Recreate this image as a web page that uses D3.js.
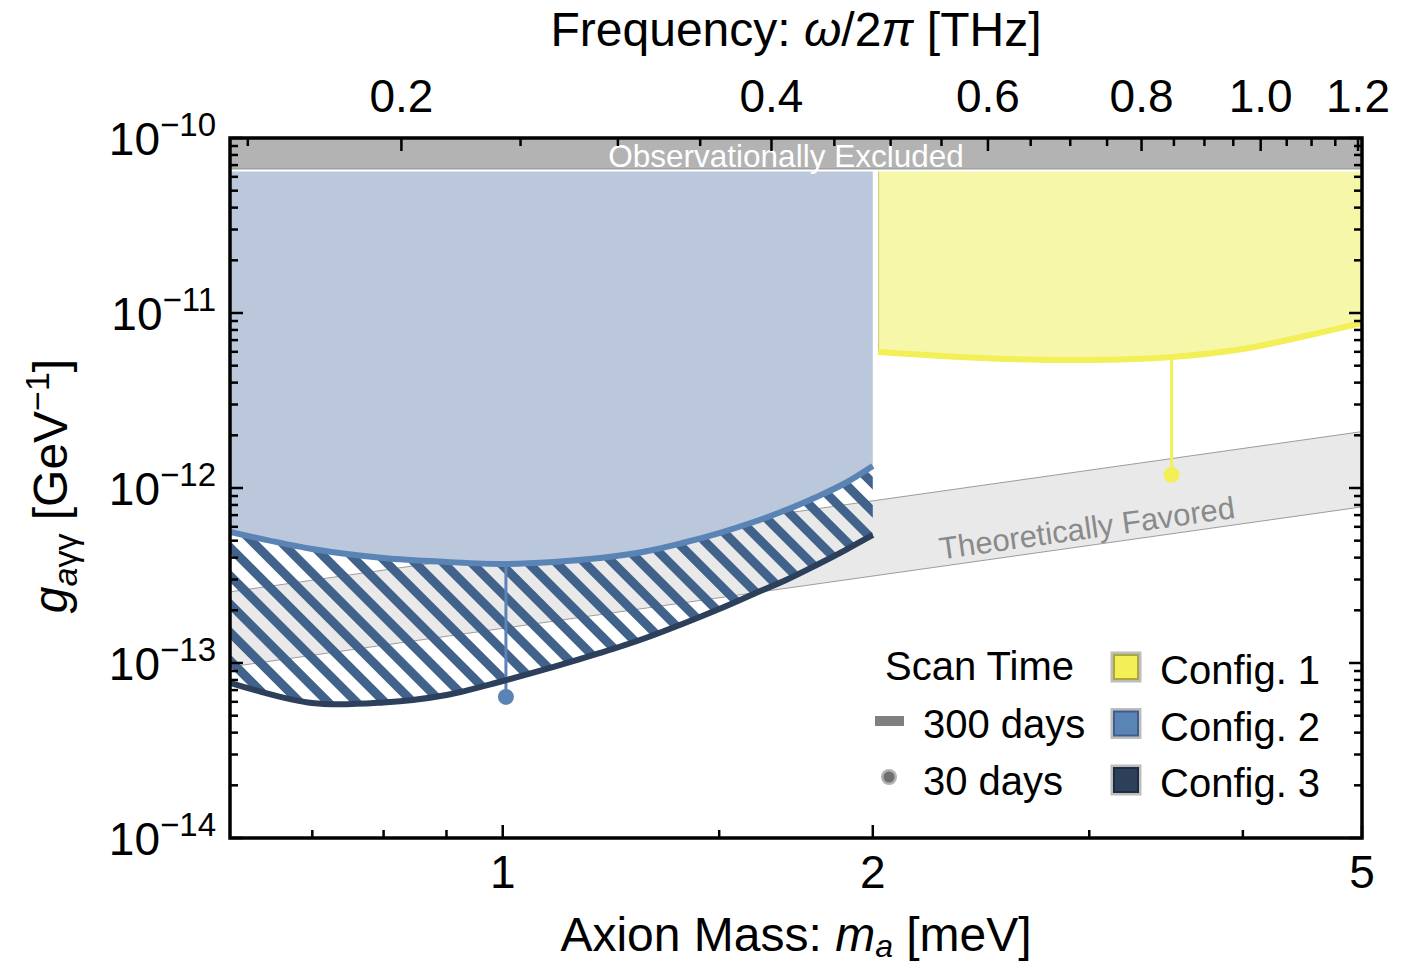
<!DOCTYPE html>
<html>
<head>
<meta charset="utf-8">
<script src="https://cdn.jsdelivr.net/npm/d3@7"></script>
<style>
  html, body { margin: 0; padding: 0; background: #fff; }
  svg { display: block; font-family: "Liberation Sans", Arial, Helvetica, sans-serif; }
</style>
</head>
<body>
<svg id="chart" width="1402" height="965"></svg>
<script>
// ---- Data -------------------------------------------------------------
// Axion mass grid (meV) for configurations 2 and 3
const lowMass = [0.6, 0.7, 0.8, 0.9, 1.0, 1.1, 1.2, 1.3, 1.4, 1.5, 1.6, 1.7, 1.8, 1.9, 2.0];
// 300-day sensitivity, g_{a gamma gamma} in GeV^-1
const config2G = [5.61e-13, 4.48e-13, 3.98e-13, 3.78e-13, 3.68e-13, 3.78e-13, 3.98e-13,
                  4.31e-13, 4.85e-13, 5.53e-13, 6.39e-13, 7.48e-13, 8.88e-13, 1.068e-12, 1.335e-12];
const config3G = [7.69e-14, 5.9e-14, 5.95e-14, 6.57e-14, 7.89e-14, 9.49e-14, 1.141e-13,
                  1.371e-13, 1.671e-13, 2.035e-13, 2.479e-13, 2.98e-13, 3.63e-13, 4.42e-13, 5.39e-13];
// Configuration 1 covers the higher-mass range
const highMass = [2.02, 2.5, 3.0, 3.5, 4.0, 4.5, 5.0];
const config1G = [5.99e-12, 5.5e-12, 5.39e-12, 5.61e-12, 6.23e-12, 7.39e-12, 8.77e-12];

// 30-day single-point reach
const shortScanConfig = ["Config. 1", "Config. 2"];
const shortScanMass = [3.5, 1.006];
const shortScanG = [1.19e-12, 6.4e-14];

// Observational bound and theory band (QCD axion lines)
const excludedG = 6.6e-11;
const bandMass = [0.6, 5];
const bandUpperG = [2.55e-13, 2.1e-12];
const bandLowerG = [9.5e-14, 7.8e-13];

// Axis ticks
const massMajorTicks = [1, 2, 5];
const massMinorTicks = [0.7, 0.8, 0.9, 1.5, 3, 4];
const freqMajorTicks = [0.2, 0.4, 0.6, 0.8, 1.0, 1.2];
const freqMajorLabels = ["0.2", "0.4", "0.6", "0.8", "1.0", "1.2"];
const freqMinorTicks = [0.15, 0.25, 0.3, 0.35, 0.45, 0.5, 0.55, 0.65, 0.7, 0.75,
                        0.85, 0.9, 0.95, 1.05, 1.1, 1.15];
const gDecades = [-14, -13, -12, -11, -10];

const legendConfigs = ["Config. 1", "Config. 2", "Config. 3"];
const legendScans = ["300 days", "30 days"];

// meV -> THz conversion (E = h f)
const MEV_TO_THZ = 0.241799;

// ---- Style ------------------------------------------------------------
const colors = {
  c1Fill: "#f7f7aa", c1Line: "#f2ef57", c1Edge: "#c9c77c",
  c2Fill: "#bbc8dc", c2Line: "#5b84b6",
  c3Line: "#2c405b", hatch: "#41628b",
  band: "#e9e9e9", bandEdge: "#9c9c9c",
  excluded: "#b3b3b3"
};

const L = 230, R = 1362, T = 138, B = 838;
const svg = d3.select("#chart");
const x = d3.scaleLog().domain([0.6, 5]).range([L, R]);
const y = d3.scaleLog().domain([1e-14, 1e-10]).range([B, T]);

const defs = svg.append("defs");
defs.append("clipPath").attr("id", "plotClip")
  .append("rect").attr("x", L).attr("y", T).attr("width", R - L).attr("height", B - T);

const hatchPeriod = 20;
const hatch = defs.append("pattern")
  .attr("id", "hatch").attr("patternUnits", "userSpaceOnUse")
  .attr("width", hatchPeriod).attr("height", hatchPeriod)
  .attr("patternTransform", "rotate(45)");
hatch.append("rect").attr("x", 0).attr("y", 0).attr("width", hatchPeriod).attr("height", 9)
  .attr("fill", colors.hatch);

const plot = svg.append("g").attr("clip-path", "url(#plotClip)");

const zip = (ms, gs) => ms.map((m, i) => ({ m, g: gs[i] }));
const lowPts2 = zip(lowMass, config2G);
const lowPts3 = zip(lowMass, config3G);
const highPts1 = zip(highMass, config1G);

// ---- Theory band -------------------------------------------------------
const bandPts = bandMass.map((m, i) => ({ m, up: bandUpperG[i], lo: bandLowerG[i] }));
plot.append("path").datum(bandPts)
  .attr("d", d3.area().x(d => x(d.m)).y0(d => y(d.lo)).y1(d => y(d.up)))
  .attr("fill", colors.band);
["up", "lo"].forEach(k => {
  plot.append("path").datum(bandPts)
    .attr("d", d3.line().x(d => x(d.m)).y(d => y(d[k])))
    .attr("fill", "none").attr("stroke", colors.bandEdge).attr("stroke-width", 1);
});

// ---- Excluded regions for each configuration ----------------------------
const curve = d3.curveCatmullRom.alpha(0.5);
plot.append("path").datum(lowPts2)
  .attr("d", d3.area().curve(curve).x(d => x(d.m)).y0(y(excludedG)).y1(d => y(d.g)))
  .attr("fill", colors.c2Fill);

plot.append("path").datum(highPts1)
  .attr("d", d3.area().curve(curve).x(d => x(d.m)).y0(y(excludedG)).y1(d => y(d.g)))
  .attr("fill", colors.c1Fill);
plot.append("line")
  .attr("x1", x(highMass[0]) + 0.5).attr("x2", x(highMass[0]) + 0.5)
  .attr("y1", y(excludedG)).attr("y2", y(config1G[0]))
  .attr("stroke", colors.c1Edge).attr("stroke-width", 1);

// Hatched band between configuration 2 and configuration 3 reach
const hatchPts = lowMass.map((m, i) => ({ m, top: config2G[i], bot: config3G[i] }));
plot.append("path").datum(hatchPts)
  .attr("d", d3.area().curve(curve).x(d => x(d.m)).y0(d => y(d.bot)).y1(d => y(d.top)))
  .attr("fill", "url(#hatch)");

// Band label, resting on the lower edge of the band
{
  const m0 = 3.0;
  const gLow = bandLowerG[0] * (m0 / bandMass[0]);
  const ang = Math.atan2(y(bandLowerG[1]) - y(bandLowerG[0]), x(bandMass[1]) - x(bandMass[0])) * 180 / Math.PI;
  plot.append("text")
    .attr("transform", `translate(${x(m0)},${y(gLow)}) rotate(${ang}) translate(0,-6)`)
    .attr("text-anchor", "middle").attr("font-size", 31).attr("fill", "#8a8a8a")
    .text("Theoretically Favored");
}

// ---- 30-day points ---------------------------------------------------------
function curveValue(ms, gs, m) {
  const lm = ms.map(Math.log10), lg = gs.map(Math.log10);
  const t = Math.log10(m);
  for (let i = 0; i < lm.length - 1; i++) {
    if (t >= lm[i] && t <= lm[i + 1]) {
      const f = (t - lm[i]) / (lm[i + 1] - lm[i]);
      return Math.pow(10, lg[i] + f * (lg[i + 1] - lg[i]));
    }
  }
  return gs[gs.length - 1];
}
const shortPts = shortScanMass.map((m, i) => {
  const isC1 = shortScanConfig[i] === "Config. 1";
  return {
    m, g: shortScanG[i],
    from: isC1 ? curveValue(highMass, config1G, m) : curveValue(lowMass, config2G, m),
    color: isC1 ? colors.c1Line : colors.c2Line
  };
});
plot.selectAll("line.stem").data(shortPts).join("line")
  .attr("class", "stem")
  .attr("x1", d => x(d.m)).attr("x2", d => x(d.m))
  .attr("y1", d => y(d.from)).attr("y2", d => y(d.g))
  .attr("stroke", d => d.color).attr("stroke-width", 3);
plot.selectAll("circle.dot").data(shortPts).join("circle")
  .attr("class", "dot")
  .attr("cx", d => x(d.m)).attr("cy", d => y(d.g)).attr("r", 8)
  .attr("fill", d => d.color);

// ---- 300-day reach curves ---------------------------------------------------
const lineGen = d3.line().curve(curve).x(d => x(d.m)).y(d => y(d.g));
plot.append("path").datum(lowPts3).attr("d", lineGen)
  .attr("fill", "none").attr("stroke", colors.c3Line).attr("stroke-width", 6);
plot.append("path").datum(lowPts2).attr("d", lineGen)
  .attr("fill", "none").attr("stroke", colors.c2Line).attr("stroke-width", 6);
plot.append("path").datum(highPts1).attr("d", lineGen)
  .attr("fill", "none").attr("stroke", colors.c1Line).attr("stroke-width", 6);

// ---- Observationally excluded band --------------------------------------------
plot.append("rect")
  .attr("x", L).attr("y", T).attr("width", R - L).attr("height", y(excludedG) - T)
  .attr("fill", colors.excluded);
plot.append("line").attr("x1", L).attr("x2", R)
  .attr("y1", y(excludedG) - 0.5).attr("y2", y(excludedG) - 0.5)
  .attr("stroke", "#8d8d8d").attr("stroke-width", 1.2);
plot.append("line").attr("x1", L).attr("x2", R)
  .attr("y1", y(excludedG) + 1).attr("y2", y(excludedG) + 1)
  .attr("stroke", "#ffffff").attr("stroke-width", 2);
svg.append("text")
  .attr("x", (x(0.6) + x(5)) / 2 - 10).attr("y", y(excludedG) - 3)
  .attr("text-anchor", "middle").attr("font-size", 31.5).attr("fill", "#ffffff")
  .text("Observationally Excluded");

// ---- Frame and ticks ------------------------------------------------------------
const axes = svg.append("g").attr("stroke", "#000");
const majorLen = 13, minorLen = 8;

massMajorTicks.concat(massMinorTicks).forEach(m => {
  const len = massMajorTicks.includes(m) ? majorLen : minorLen;
  axes.append("line").attr("x1", x(m)).attr("x2", x(m)).attr("y1", B).attr("y2", B - len).attr("stroke-width", 2.5);
});
freqMajorTicks.concat(freqMinorTicks).forEach(f => {
  const len = freqMajorTicks.includes(f) ? majorLen : minorLen;
  const px = x(f / MEV_TO_THZ);
  if (px > R - 1) return;
  axes.append("line").attr("x1", px).attr("x2", px).attr("y1", T).attr("y2", T + len).attr("stroke-width", 2.5);
});
gDecades.forEach(d => {
  [L, R].forEach(side => {
    const dir = side === L ? 1 : -1;
    axes.append("line").attr("x1", side).attr("x2", side + dir * majorLen)
      .attr("y1", y(Math.pow(10, d))).attr("y2", y(Math.pow(10, d))).attr("stroke-width", 2.5);
    if (d < -10) {
      for (let k = 2; k <= 9; k++) {
        const gy = y(k * Math.pow(10, d));
        axes.append("line").attr("x1", side).attr("x2", side + dir * minorLen)
          .attr("y1", gy).attr("y2", gy).attr("stroke-width", 2.5);
      }
    }
  });
});
axes.append("rect").attr("x", L).attr("y", T).attr("width", R - L).attr("height", B - T)
  .attr("fill", "none").attr("stroke-width", 3.5);

// Tick labels
const tickFont = 46;
massMajorTicks.forEach(m => {
  svg.append("text").attr("x", x(m)).attr("y", B + 50)
    .attr("text-anchor", "middle").attr("font-size", tickFont).text(m);
});
freqMajorTicks.forEach((f, i) => {
  svg.append("text").attr("x", x(f / MEV_TO_THZ)).attr("y", T - 26)
    .attr("text-anchor", "middle").attr("font-size", tickFont).text(freqMajorLabels[i]);
});
gDecades.forEach(d => {
  const t = svg.append("text").attr("x", 216).attr("y", y(Math.pow(10, d)) + 17)
    .attr("text-anchor", "end").attr("font-size", tickFont);
  t.append("tspan").text("10");
  t.append("tspan").attr("dy", -19).attr("font-size", 33).text("\u2212" + Math.abs(d));
});

// Axis titles
const titleFont = 48;
{
  const t = svg.append("text").attr("x", 796).attr("y", 951)
    .attr("text-anchor", "middle").attr("font-size", titleFont);
  t.append("tspan").text("Axion Mass: ");
  t.append("tspan").attr("font-style", "italic").text("m");
  t.append("tspan").attr("font-style", "italic").attr("font-size", 32).attr("dy", 6).text("a");
  t.append("tspan").attr("dy", -6).text(" [meV]");
}
{
  const t = svg.append("text").attr("x", 796).attr("y", 46)
    .attr("text-anchor", "middle").attr("font-size", titleFont);
  t.append("tspan").text("Frequency: ");
  t.append("tspan").attr("font-style", "italic").text("\u03C9");
  t.append("tspan").text("/2");
  t.append("tspan").attr("font-style", "italic").text("\u03C0");
  t.append("tspan").text(" [THz]");
}
{
  const t = svg.append("text").attr("transform", "translate(67,486) rotate(-90)")
    .attr("text-anchor", "middle").attr("font-size", titleFont);
  t.append("tspan").attr("font-style", "italic").text("g");
  t.append("tspan").attr("font-size", 34).attr("dy", 10).attr("font-style", "italic").text("a");
  t.append("tspan").attr("font-size", 34).text("\u03B3\u03B3");
  t.append("tspan").attr("dy", -10).text(" [GeV");
  t.append("tspan").attr("font-size", 34).attr("dy", -18).text("\u22121");
  t.append("tspan").attr("dy", 18).text("]");
}

// ---- Legend ------------------------------------------------------------------------
const legFont = 40;
const leg = svg.append("g").attr("font-size", legFont);
leg.append("text").attr("x", 885).attr("y", 680).text("Scan Time");
leg.append("rect").attr("x", 875).attr("y", 716).attr("width", 29).attr("height", 10).attr("fill", "#808080");
leg.append("text").attr("x", 923).attr("y", 738).text(legendScans[0]);
leg.append("circle").attr("cx", 889).attr("cy", 777).attr("r", 8).attr("fill", "#b2b2b2");
leg.append("circle").attr("cx", 889).attr("cy", 777).attr("r", 5.5).attr("fill", "#6f6f6f");
leg.append("text").attr("x", 923).attr("y", 795).text(legendScans[1]);

const swatch = [
  { fill: colors.c1Line, edge: "#aaa73c" },
  { fill: colors.c2Line, edge: "#3e5f8b" },
  { fill: colors.c3Line, edge: "#1e2d42" }
];
legendConfigs.forEach((name, i) => {
  const yTop = 653 + i * 56.5;
  leg.append("rect").attr("x", 1112).attr("y", yTop).attr("width", 28).attr("height", 28)
    .attr("fill", "none").attr("stroke", "#bdbdbd").attr("stroke-width", 3);
  leg.append("rect").attr("x", 1114).attr("y", yTop + 2).attr("width", 24).attr("height", 24)
    .attr("fill", swatch[i].fill).attr("stroke", swatch[i].edge).attr("stroke-width", 2);
  leg.append("text").attr("x", 1160).attr("y", yTop + 31).text(name);
});
</script>
</body>
</html>
